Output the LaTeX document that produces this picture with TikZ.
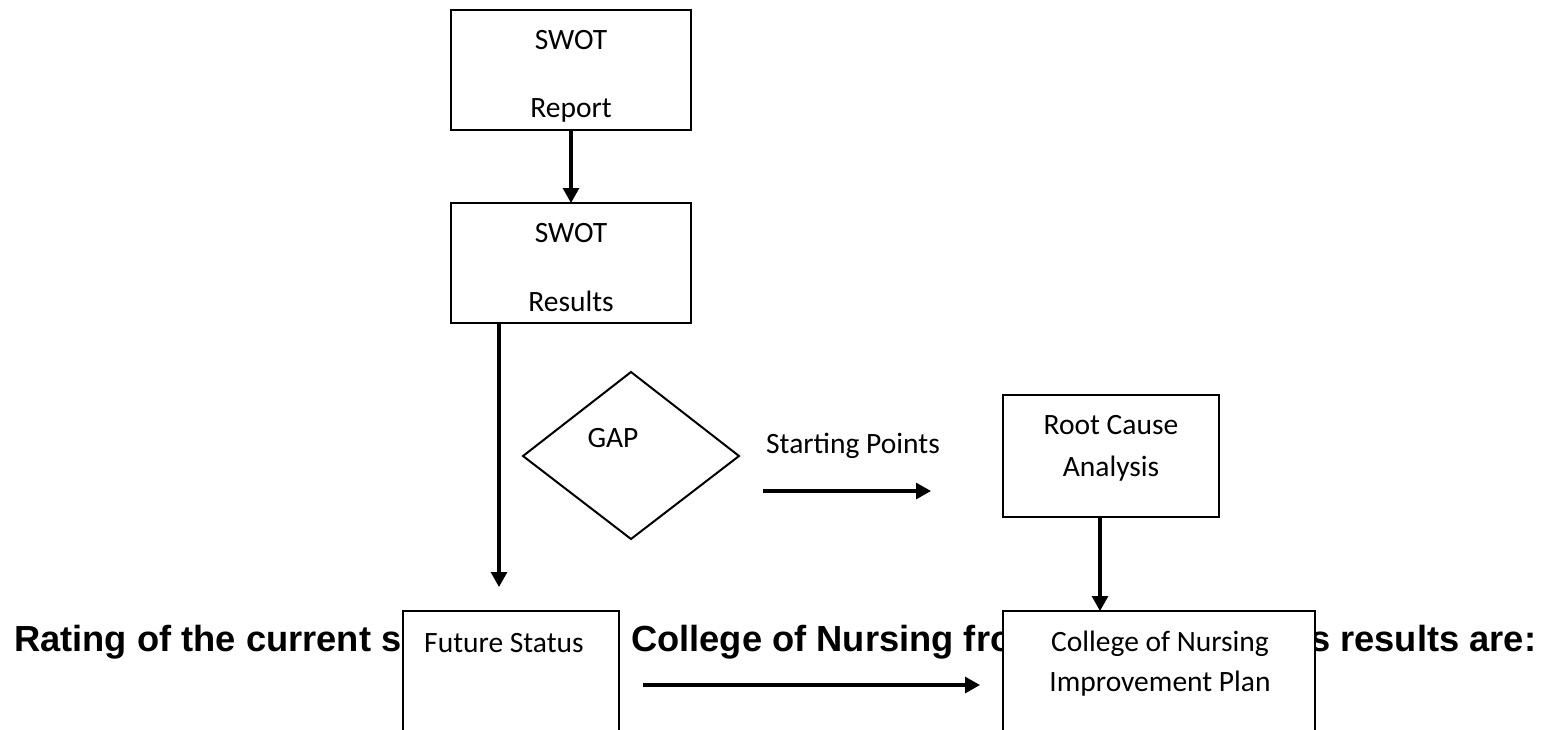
\documentclass[tikz,border=0pt]{standalone}
\usepackage{fontspec}
\setmainfont{Carlito}
\newfontfamily\headfont{Liberation Sans}
\usetikzlibrary{arrows.meta}

\tikzset{
  box/.style={draw=black, line width=2.3pt, fill=white, anchor=north west,
              inner sep=0pt, outer sep=0pt},
  lbl/.style={anchor=base, inner sep=0pt, font=\fontsize{29.5}{35}\selectfont},
  head/.style={anchor=base west, inner sep=0pt,
               font=\headfont\bfseries\fontsize{36.3}{43}\selectfont},
  flow/.style={line width=3.1pt, -{Triangle[length=15pt,width=16pt]}},
  gapshape/.style={draw=black, line width=2pt}
}

\begin{document}
\begin{tikzpicture}[x=1pt,y=-1pt]
  \useasboundingbox (0,0) rectangle (1548,729);
  \clip (0,0) rectangle (1548,729);

  % heading line running behind the lower boxes
  \node[head] (h1) at (14,651) {Rating of the current s};
  \node[head] (h2) at (631,651) {College of Nursing fro};
  \node[head] (h3) at (1310,651) {s results are:};

  % boxes
  \node[box, minimum width=240pt, minimum height=120pt] (rep) at (451,10) {};
  \node[box, minimum width=240pt, minimum height=120pt] (res) at (451,203) {};
  \node[box, minimum width=216pt, minimum height=122pt] (rca) at (1003,395) {};
  \node[box, minimum width=216pt, minimum height=160pt] (fut) at (403,611) {};
  \node[box, minimum width=312pt, minimum height=160pt] (imp) at (1003,611) {};

  % decision diamond
  \draw[gapshape] (523,456) -- (631,372) -- (739,456) -- (631,539) -- cycle;

  % box texts
  \node[lbl] (t1) at (571,49) {SWOT};
  \node[lbl] (t2) at (571,117) {Report};
  \node[lbl] (t3) at (571,242) {SWOT};
  \node[lbl] (t4) at (571,311) {Results};
  \node[lbl] (t5) at (613,447) {GAP};
  \node[lbl] (t6) at (853,453) {Starting Points};
  \node[lbl] (t7) at (1111,434) {Root Cause};
  \node[lbl] (t8) at (1111,476) {Analysis};
  \node[lbl] (t9) at (504,652) {Future Status};
  \node[lbl] (t10) at (1160,651) {College of Nursing};
  \node[lbl] (t11) at (1160,691) {Improvement Plan};

  % connector end points
  \coordinate (fsin) at (499,587);
  \coordinate (rcx) at (1100,0);
  \coordinate (sp1) at (763,491);
  \coordinate (sp2) at (931,491);
  \coordinate (fp1) at (643,685);
  \coordinate (fp2) at (980,685);

  % connectors
  \draw[flow] (rep.south) -- (res.north);
  \draw[flow] (res.south -| fsin) -- (fsin);
  \draw[flow] (sp1) -- (sp2);
  \draw[flow] (rca.south -| rcx) -- (imp.north -| rcx);
  \draw[flow] (fp1) -- (fp2);
\end{tikzpicture}
\end{document}
